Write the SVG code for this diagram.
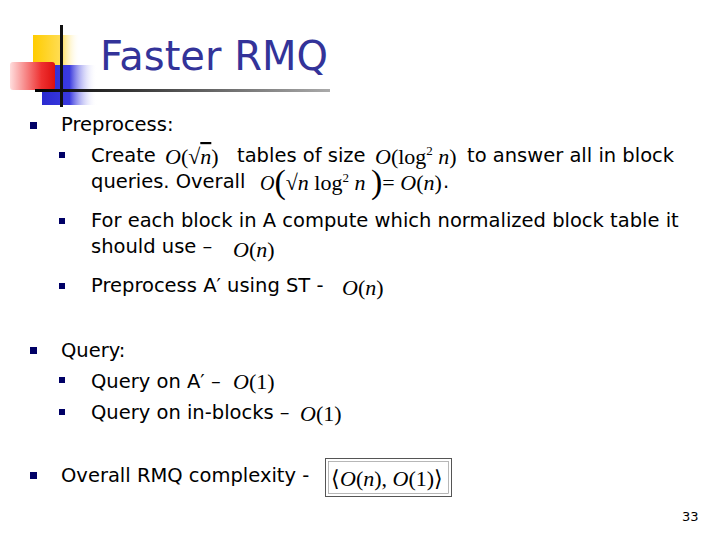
<svg xmlns="http://www.w3.org/2000/svg" width="720" height="540" viewBox="0 0 720 540">
<defs>
<linearGradient id="gy" x1="0" x2="1"><stop offset="0" stop-color="#ffcc00"/><stop offset="0.6" stop-color="#ffdd55"/><stop offset="1" stop-color="#fff" stop-opacity="0"/></linearGradient>
<linearGradient id="gb" x1="0" x2="1"><stop offset="0" stop-color="#2a2ad0"/><stop offset="0.5" stop-color="#3a3ae0"/><stop offset="1" stop-color="#fff" stop-opacity="0"/></linearGradient>
<linearGradient id="gr" x1="0" x2="1"><stop offset="0" stop-color="#ffdddd"/><stop offset="0.7" stop-color="#ee3030"/><stop offset="1" stop-color="#dd1010"/></linearGradient>
<linearGradient id="gl" x1="0" x2="1"><stop offset="0" stop-color="#000"/><stop offset="1" stop-color="#aaa"/></linearGradient>
<style>
.t{font-family:"DejaVu Sans",sans-serif;font-size:19.5px;fill:#000}
.m{font-family:"Liberation Serif",serif;font-size:22px;fill:#000}
.i{font-style:italic}
.b{fill:#000066}
</style>
</defs>
<rect width="720" height="540" fill="#fff"/>
<g id="logo">
<rect x="33" y="35" width="47" height="45" fill="url(#gy)"/>
<rect x="42" y="65" width="55" height="40" fill="url(#gb)"/>
<rect x="10" y="62" width="45" height="28" rx="3" fill="url(#gr)"/>
<rect x="60" y="25" width="3" height="82" fill="#111"/>
<rect x="35" y="89" width="295" height="3" fill="url(#gl)"/>
</g>
<text x="100" y="70" font-family="DejaVu Sans,sans-serif" font-size="40" fill="#333399">Faster RMQ</text>
<g id="bullets">
<rect x="30" y="122" width="7" height="7" class="b"/>
<rect x="59" y="152" width="6" height="6" class="b"/>
<rect x="59" y="218" width="6" height="6" class="b"/>
<rect x="59" y="283" width="6" height="6" class="b"/>
<rect x="30" y="347" width="7" height="7" class="b"/>
<rect x="59" y="377" width="6" height="6" class="b"/>
<rect x="59" y="409" width="6" height="6" class="b"/>
<rect x="30" y="472" width="7" height="7" class="b"/>
</g>
<text class="t" x="61" y="131">Preprocess:</text>
<text class="t" x="91" y="162">Create</text>
<text class="m" x="165" y="164" font-size="24"><tspan class="i">O</tspan>(√<tspan class="i" text-decoration="overline">n</tspan>)</text>
<text class="t" x="237" y="162">tables of size</text>
<text class="m" x="375" y="164" font-size="23"><tspan class="i">O</tspan>(log<tspan font-size="13" dy="-9">2</tspan><tspan dy="9"> </tspan><tspan class="i">n</tspan>)</text>
<text class="t" x="467" y="162">to answer all in block</text>
<text class="t" x="91" y="188">queries.  Overall</text>
<text class="m" x="260" y="190"><tspan class="i" font-size="20">O</tspan><tspan font-size="34" dy="3">(</tspan><tspan dy="-3">√</tspan><tspan class="i">n</tspan> log<tspan font-size="13" dy="-8">2</tspan><tspan dy="8"> </tspan><tspan class="i">n</tspan> <tspan font-size="34" dy="3">)</tspan><tspan dy="-3">= </tspan><tspan class="i">O</tspan>(<tspan class="i">n</tspan>)</text>
<text class="t" x="443" y="188">.</text>
<text class="t" x="91" y="227">For each block in A compute which normalized block table it</text>
<text class="t" x="91" y="253">should use –</text>
<text class="m" x="233" y="257" font-size="19"><tspan class="i">O</tspan>(<tspan class="i">n</tspan>)</text>
<text class="t" x="91" y="292">Preprocess A′ using ST -</text>
<text class="m" x="342" y="295" font-size="23"><tspan class="i">O</tspan>(<tspan class="i">n</tspan>)</text>
<text class="t" x="61" y="357">Query:</text>
<text class="t" x="91" y="388">Query on A′ –</text>
<text class="m" x="233" y="389"><tspan class="i">O</tspan>(1)</text>
<text class="t" x="91" y="419">Query on in-blocks –</text>
<text class="m" x="300" y="421" font-size="23"><tspan class="i">O</tspan>(1)</text>
<text class="t" x="61" y="482">Overall RMQ complexity -</text>
<g id="box">
<rect x="325.5" y="458.5" width="126" height="38" fill="none" stroke="#555" stroke-width="1"/>
<rect x="328.5" y="461.5" width="120" height="32" fill="none" stroke="#999" stroke-width="0.7"/>
<text class="m" x="331" y="486" font-size="24">⟨<tspan class="i">O</tspan>(<tspan class="i">n</tspan>), <tspan class="i">O</tspan>(1)⟩</text>
</g>
<text x="682" y="521" font-family="DejaVu Sans,sans-serif" font-size="13">33</text>
</svg>
